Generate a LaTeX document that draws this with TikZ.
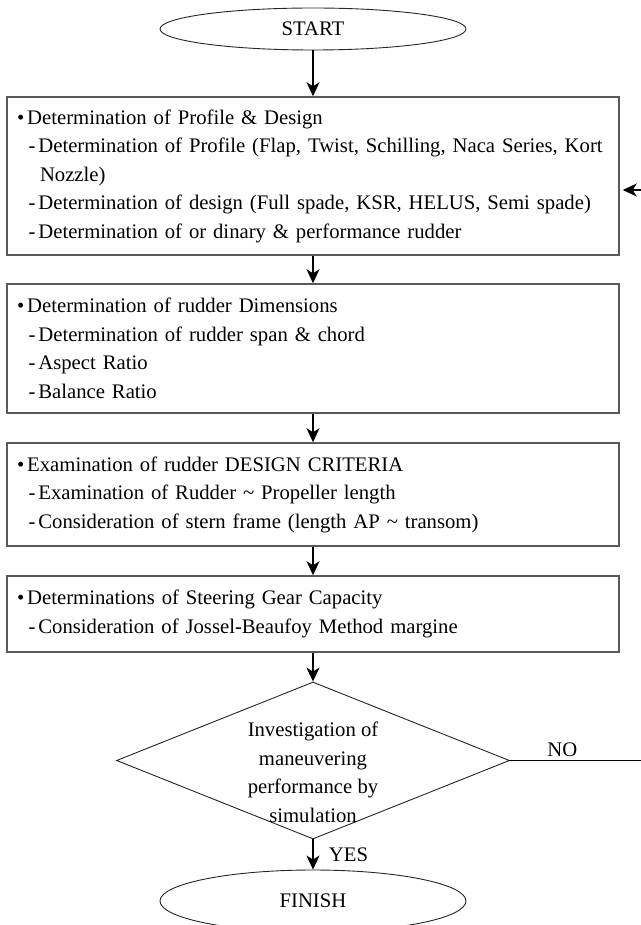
\documentclass[tikz,border=0pt]{standalone}
\usepackage{fontspec}
\setmainfont{Liberation Serif}
\usetikzlibrary{arrows.meta}
\usetikzlibrary{shapes.geometric}
\usetikzlibrary{positioning}
\tikzset{
  terminal/.style={ellipse, draw=black!85, line width=0.9pt,
    minimum width=306pt, inner sep=0pt},
  stepbox/.style={rectangle, draw=black!65, line width=1.5pt,
    text width=592pt, inner xsep=10pt, inner ysep=0pt, align=left},
  decision/.style={diamond, draw=black!85, line width=0.9pt,
    minimum width=393pt, minimum height=157pt, inner sep=0pt}
}
\newcommand{\mainline}[1]{\textbullet\hspace{3pt}#1}
\newcommand{\subline}[1]{\hspace*{11.5pt}-\hspace{3pt}#1}

\begin{document}
\begin{tikzpicture}[->,>={Stealth[length=14pt,width=13pt,inset=4pt]},
      x=1pt, y=1pt,
      line width=1.2pt,
      on grid,
      font=\fontsize{20.7}{28.5}\selectfont]

    \useasboundingbox (0,-925) rectangle (640,0);

    \node[terminal, minimum height=42pt]
      (Start) at (313,-29) {START};
    \node[stepbox, minimum height=158pt]
      (Profile) [below=147pt of Start]
      {\mainline{Determination of Profile \& Design}\\
       \subline{Determination of Profile (Flap, Twist, Schilling, Naca Series, Kort}\\
       \hspace*{23pt}Nozzle)\\
       \subline{Determination of design (Full spade, KSR, HELUS, Semi spade)}\\
       \subline{Determination of or dinary \& performance rudder}};
    \node[stepbox, minimum height=129pt]
      (Dimension) [below=172.5pt of Profile]
      {\mainline{Determination of rudder Dimensions}\\
       \subline{Determination of rudder span \& chord}\\
       \subline{Aspect Ratio}\\
       \subline{Balance Ratio}};
    \node[stepbox, minimum height=103pt]
      (Criteria) [below=146pt of Dimension]
      {\mainline{Examination of rudder DESIGN CRITERIA}\\
       \subline{Examination of Rudder \textasciitilde{} Propeller length}\\
       \subline{Consideration of stern frame (length AP \textasciitilde{} transom)}};
    \node[stepbox, minimum height=76pt]
      (Steering) [below=119.5pt of Criteria]
      {\mainline{Determinations of Steering Gear Capacity}\\
       \subline{Consideration of Jossel-Beaufoy Method margine}};
    \node[decision]
      (Decide) [below=146.5pt of Steering] {};
    \node[align=center, inner sep=0pt]
      (DecideText) [below=12pt of Decide]
      {Investigation of\\maneuvering\\performance by\\simulation};
    \node[terminal, minimum height=62pt]
      (Finish) [below=140.5pt of Decide] {FINISH};

    \coordinate (Back) at ([yshift=-14pt]Profile.east);

    \path[->]
      (Start) edge (Profile)
      (Profile) edge (Dimension)
      (Dimension) edge (Criteria)
      (Criteria) edge (Steering)
      (Steering) edge (Decide)
      (Decide) edge node[right, xshift=12pt] {YES} (Finish);

    \draw[->, shorten >=3pt]
      (Decide.east) -- node[above, pos=0.38] {NO} ++(138,0) |- (Back);

  \end{tikzpicture}
\end{document}
